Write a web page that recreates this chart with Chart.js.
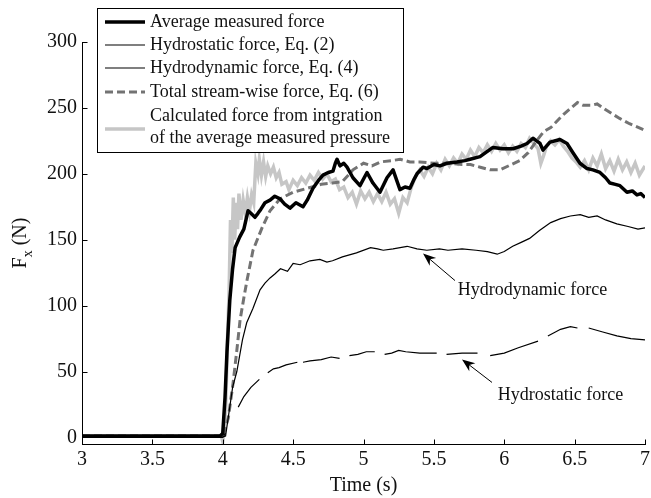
<!DOCTYPE html>
<html>
<head>
<meta charset="utf-8">
<script src="https://cdn.jsdelivr.net/npm/chart.js@4.4.1/dist/chart.umd.min.js"></script>
<style>
html, body { margin: 0; padding: 0; background: #fff; }
#wrap { width: 651px; height: 498px; }
</style>
</head>
<body>
<div id="wrap"><canvas id="c"></canvas></div>
<script>
// ticks
const xTicks = [3, 3.5, 4, 4.5, 5, 5.5, 6, 6.5, 7];
const yTicks = [0, 50, 100, 150, 200, 250, 300];

// average measured force
const avgT = [3.0, 3.5, 3.98, 4.0, 4.016, 4.03, 4.05, 4.07, 4.088, 4.12,
  4.15, 4.18, 4.2, 4.229, 4.25, 4.27, 4.3, 4.336, 4.37, 4.407,
  4.44, 4.478, 4.52, 4.57, 4.6, 4.641, 4.68, 4.712, 4.75, 4.783,
  4.80, 4.812, 4.833, 4.86, 4.883, 4.925, 4.975, 5.025, 5.067, 5.117,
  5.167, 5.21, 5.259, 5.295, 5.33, 5.36, 5.38, 5.423, 5.451, 5.5,
  5.543, 5.593, 5.664, 5.72, 5.757, 5.828, 5.88, 5.92, 5.99, 6.062,
  6.12, 6.162, 6.204, 6.23, 6.254, 6.275, 6.3, 6.325, 6.396, 6.446,
  6.488, 6.538, 6.588, 6.63, 6.68, 6.72, 6.751, 6.79, 6.822, 6.872,
  6.91, 6.943, 6.97, 7.0];
const avgF = [1, 1, 1, 3, 30, 65, 104, 128, 144, 152,
  158, 172, 170, 167, 170, 173, 178, 180, 183, 181,
  177, 174, 178, 175, 180, 189, 195, 199, 201, 202,
  208, 211, 206, 208, 205, 197, 191, 201, 193, 186,
  197, 203, 188, 190, 189, 196, 200, 205, 204, 207,
  206, 208, 209, 210, 211, 213, 217, 220, 219, 219,
  221, 223, 227, 225, 223, 218, 221, 224, 226, 223,
  216, 208, 204, 203, 201, 197, 193, 192, 191, 186,
  187, 184, 185, 182];

// hydrostatic force, Eq. (2)  (null = missing samples)
const hsT = [3.0, 3.5, 3.99, 4.0, 4.02, 4.06, 4.11, 4.15, 4.2, 4.26,
  4.29, 4.32, 4.36, 4.4, 4.45, 4.53, 4.55, 4.57, 4.62, 4.7,
  4.77, 4.83, 4.86, 4.9, 4.96, 5.02, 5.08, 5.11, 5.15, 5.2,
  5.25, 5.3, 5.4, 5.52, 5.55, 5.59, 5.7, 5.81, 5.85, 5.9,
  6.0, 6.1, 6.24, 6.27, 6.31, 6.4, 6.47, 6.52, 6.56, 6.6,
  6.7, 6.8, 6.9, 7.0];
const hsF = [0, 0, 0, 0, 3, null, 23, 31, 38, 44,
  null, 49, 52, 53, 55, 57, null, 57, 58, 59,
  61, 60, null, 62, 63, 65, 65, null, 63, 64,
  66, 65, 64, 64, null, 63, 64, 64, null, 62,
  64, 68, 73, null, 77, 82, 84, 83, null, 83,
  80, 77, 75, 74];

// hydrodynamic force, Eq. (4)
const hdT = [3.0, 3.5, 3.99, 4.02, 4.07, 4.1, 4.14, 4.17, 4.215, 4.265,
  4.3, 4.336, 4.37, 4.41, 4.46, 4.5, 4.55, 4.62, 4.69, 4.74,
  4.78, 4.85, 4.95, 5.05, 5.1, 5.14, 5.21, 5.31, 5.38, 5.45,
  5.54, 5.6, 5.7, 5.8, 5.88, 5.95, 6.0, 6.06, 6.12, 6.18,
  6.25, 6.33, 6.4, 6.47, 6.54, 6.6, 6.66, 6.72, 6.8, 6.88,
  6.95, 7.0];
const hdF = [0, 0, 0, 1, 38, 50, 74, 87, 98, 112,
  117, 121, 124, 128, 126, 132, 131, 134, 135, 133,
  134, 137, 140, 144, 143, 142, 143, 145, 143, 142,
  143, 142, 143, 142, 141, 139, 141, 145, 148, 151,
  157, 163, 166, 168, 169, 167, 168, 165, 162, 160,
  158, 159];

// total stream-wise force, Eq. (6)
const totT = [3.0, 3.5, 3.99, 4.0, 4.04, 4.073, 4.1, 4.123, 4.15, 4.172,
  4.215, 4.279, 4.336, 4.407, 4.5, 4.6, 4.7, 4.78, 4.85, 4.925,
  5.0, 5.06, 5.12, 5.2, 5.26, 5.33, 5.4, 5.5, 5.6, 5.7,
  5.76, 5.83, 5.9, 5.97, 6.05, 6.11, 6.17, 6.23, 6.28, 6.33,
  6.42, 6.52, 6.56, 6.62, 6.66, 6.73, 6.82, 6.89, 7.0];
const totF = [1, 1, 1, 0, 15, 41, 66, 89, 106, 119,
  142, 159, 172, 181, 186, 189, 192, 193, 194, 203,
  208, 206, 209, 210, 211, 209, 209, 208, 208, 207,
  207, 205, 203, 203, 207, 210, 216, 225, 232, 235,
  245, 254, 252, 252, 253, 248, 242, 238, 233];

// force from integration of the average measured pressure
const calcT = [3.0, 3.5, 3.99, 4.0, 4.01, 4.02, 4.035, 4.045, 4.055, 4.065,
  4.075, 4.085, 4.095, 4.105, 4.115, 4.13, 4.145, 4.16, 4.175, 4.19,
  4.205, 4.22, 4.235, 4.25, 4.26, 4.275, 4.29, 4.305, 4.32, 4.34,
  4.36, 4.38, 4.4, 4.42, 4.45, 4.47, 4.5, 4.53, 4.56, 4.59,
  4.62, 4.65, 4.68, 4.71, 4.74, 4.77, 4.8, 4.83, 4.86, 4.89,
  4.92, 4.95, 4.98, 5.01, 5.04, 5.07, 5.1, 5.13, 5.16, 5.19,
  5.22, 5.25, 5.28, 5.31, 5.34, 5.37, 5.4, 5.43, 5.46, 5.49,
  5.52, 5.55, 5.58, 5.61, 5.64, 5.67, 5.7, 5.73, 5.76, 5.79,
  5.82, 5.85, 5.88, 5.91, 5.94, 5.97, 6.0, 6.03, 6.06, 6.09,
  6.12, 6.15, 6.18, 6.21, 6.24, 6.26, 6.28, 6.3, 6.33, 6.36,
  6.39, 6.42, 6.45, 6.48, 6.51, 6.54, 6.57, 6.6, 6.63, 6.66,
  6.69, 6.72, 6.75, 6.78, 6.81, 6.84, 6.87, 6.9, 6.93, 6.96,
  7.0];
const calcF = [1, 1, 1, -3, 5, 20, 79, 110, 165, 140,
  182, 150, 178, 158, 185, 165, 180, 170, 182, 172,
  184, 178, 208, 200, 211, 199, 209, 198, 206, 200,
  205, 197, 201, 192, 194, 188, 195, 191, 197, 193,
  199, 195, 201, 196, 200, 194, 196, 188, 190, 182,
  186, 177, 187, 181, 186, 179, 185, 179, 186, 177,
  181, 170, 182, 178, 190, 198, 203, 198, 205, 200,
  208, 203, 211, 206, 212, 208, 215, 211, 218, 213,
  220, 216, 222, 217, 223, 218, 222, 216, 221, 217,
  223, 220, 227, 223, 219, 208, 214, 221, 225, 222,
  226, 221, 217, 212, 209, 205, 210, 203, 212, 206,
  215, 204, 210, 202, 211, 203, 209, 201, 208, 199,
  206];

const legendLabels = [
  ['Average measured force'],
  ['Hydrostatic force, Eq. (2)'],
  ['Hydrodynamic force, Eq. (4)'],
  ['Total stream-wise force, Eq. (6)'],
  ['Calculated force from intgration', 'of the average measured pressure']
];

// arrow notes in data units: text centre, arrow tail, arrow tip
const notes = [
  { text: 'Hydrodynamic force', at: [6.2, 111.5], tail: [5.65, 119], tip: [5.423, 139.6] },
  { text: 'Hydrostatic force', at: [6.4, 32], tail: [5.913, 41.7], tip: [5.70, 59.2] }
];

const serif = '"Liberation Serif", "Times New Roman", serif';
const ink = '#111';

function pts(ts, vs) {
  return ts.map((t, i) => ({ x: t, y: vs[i] }));
}

function arrow(ctx, x1, y1, x2, y2) {
  const a = Math.atan2(y2 - y1, x2 - x1);
  const L = 13, W = 5;
  ctx.beginPath();
  ctx.moveTo(x1, y1);
  ctx.lineTo(x2 - Math.cos(a) * 6, y2 - Math.sin(a) * 6);
  ctx.stroke();
  ctx.beginPath();
  ctx.moveTo(x2, y2);
  ctx.lineTo(x2 - L * Math.cos(a) + W * Math.sin(a), y2 - L * Math.sin(a) - W * Math.cos(a));
  ctx.lineTo(x2 - L * 0.7 * Math.cos(a), y2 - L * 0.7 * Math.sin(a));
  ctx.lineTo(x2 - L * Math.cos(a) - W * Math.sin(a), y2 - L * Math.sin(a) + W * Math.cos(a));
  ctx.closePath();
  ctx.fill();
}

const decor = {
  id: 'decor',
  afterDraw(chart) {
    const ctx = chart.ctx;
    const xs = chart.scales.x, ys = chart.scales.y;
    const area = chart.chartArea;
    ctx.save();

    // axis lines and inward tick marks
    ctx.strokeStyle = '#000';
    ctx.lineWidth = 1;
    ctx.beginPath();
    const bY = Math.round(area.bottom) + 0.5, lX = Math.round(area.left) + 0.5;
    ctx.moveTo(lX, Math.round(area.top));
    ctx.lineTo(lX, bY);
    ctx.lineTo(Math.round(area.right) + 1, bY);
    xTicks.forEach(v => {
      const px = Math.round(xs.getPixelForValue(v)) + 0.5;
      ctx.moveTo(px, bY);
      ctx.lineTo(px, bY - 5);
    });
    yTicks.forEach(v => {
      const py = Math.round(ys.getPixelForValue(v)) + 0.5;
      ctx.moveTo(lX, py);
      ctx.lineTo(lX + 5, py);
    });
    ctx.stroke();

    // y title with subscript
    ctx.fillStyle = ink;
    ctx.save();
    ctx.translate(21, (area.top + area.bottom) / 2);
    ctx.rotate(-Math.PI / 2);
    ctx.textBaseline = 'middle';
    ctx.font = '20px ' + serif;
    const wF = ctx.measureText('F').width;
    const wN = ctx.measureText(' (N)').width;
    ctx.font = '14px ' + serif;
    const wx = ctx.measureText('x').width;
    let x0 = -(wF + wx + wN) / 2;
    ctx.font = '20px ' + serif;
    ctx.fillText('F', x0, 0);
    ctx.font = '14px ' + serif;
    ctx.fillText('x', x0 + wF, 7);
    ctx.font = '20px ' + serif;
    ctx.fillText(' (N)', x0 + wF + wx, 0);
    ctx.restore();

    // arrow notes
    ctx.strokeStyle = '#000';
    ctx.fillStyle = '#000';
    notes.forEach(n => {
      arrow(ctx, xs.getPixelForValue(n.tail[0]), ys.getPixelForValue(n.tail[1]),
        xs.getPixelForValue(n.tip[0]), ys.getPixelForValue(n.tip[1]));
      ctx.fillStyle = ink;
      ctx.font = '18px ' + serif;
      ctx.textAlign = 'center';
      ctx.textBaseline = 'middle';
      ctx.fillText(n.text, xs.getPixelForValue(n.at[0]), ys.getPixelForValue(n.at[1]));
      ctx.fillStyle = '#000';
    });

    // legend box
    const bx = 97.5, by = 8.5, bw = 306, bh = 144;
    ctx.fillStyle = '#fff';
    ctx.fillRect(bx, by, bw, bh);
    ctx.strokeStyle = '#000';
    ctx.lineWidth = 1;
    ctx.strokeRect(bx, by, bw, bh);
    const rows = [22, 45, 68, 92, 116, 138];
    let r = 0;
    chart.data.datasets.forEach((ds, i) => {
      const lines = legendLabels[i];
      const yMid = lines.length > 1 ? (rows[r] + rows[r + 1]) / 2 + 2 : rows[r];
      ctx.save();
      ctx.strokeStyle = ds.borderColor;
      ctx.lineWidth = ds.borderWidth;
      ctx.setLineDash(ds.borderDash || []);
      ctx.beginPath();
      ctx.moveTo(105, yMid);
      ctx.lineTo(145, yMid);
      ctx.stroke();
      ctx.restore();
      ctx.fillStyle = ink;
      ctx.font = '18px ' + serif;
      ctx.textAlign = 'left';
      ctx.textBaseline = 'middle';
      lines.forEach(t => { ctx.fillText(t, 150, rows[r]); r++; });
    });
    ctx.restore();
  }
};

const tickFont = { family: serif, size: 20 };

new Chart(document.getElementById('c'), {
  type: 'line',
  data: {
    datasets: [
      { data: pts(avgT, avgF), borderColor: '#000', borderWidth: 3.5, order: 1, borderJoinStyle: 'round' },
      { data: pts(hsT, hsF), borderColor: '#000', borderWidth: 1.2, order: 2 },
      { data: pts(hdT, hdF), borderColor: '#000', borderWidth: 1.2, order: 3 },
      { data: pts(totT, totF), borderColor: '#737373', borderWidth: 3, borderDash: [8, 4], order: 4 },
      { data: pts(calcT, calcF), borderColor: '#c6c6c6', borderWidth: 3.5, order: 5 }
    ]
  },
  options: {
    responsive: true,
    maintainAspectRatio: false,
    animation: false,
    spanGaps: false,
    layout: { padding: { top: 42, right: 6, left: 0, bottom: 0 } },
    elements: { point: { radius: 0 }, line: { tension: 0 } },
    plugins: { legend: { display: false }, tooltip: { enabled: false } },
    scales: {
      x: {
        type: 'linear', min: 3, max: 7,
        afterBuildTicks: s => { s.ticks = xTicks.map(v => ({ value: v })); },
        afterFit: s => { s.height = 54; s.paddingRight = 0; s.paddingLeft = 0; },
        grid: { display: true, drawOnChartArea: false, drawTicks: false },
        border: { display: true, color: '#000', width: 1 },
        ticks: { font: tickFont, color: ink, padding: 4, maxRotation: 0, autoSkip: false,
          callback: v => String(v) },
        title: { display: true, text: 'Time (s)', font: tickFont, color: ink, padding: { top: 0, bottom: 0 } }
      },
      y: {
        type: 'linear', min: -5, max: 300,
        afterBuildTicks: s => { s.ticks = yTicks.map(v => ({ value: v })); },
        afterFit: s => { s.width = 82; s.paddingTop = 0; s.paddingBottom = 0; },
        grid: { display: true, drawOnChartArea: false, drawTicks: false },
        border: { display: true, color: '#000', width: 1 },
        ticks: { font: tickFont, color: ink, padding: 5, callback: v => String(v) }
      }
    }
  },
  plugins: [decor]
});
</script>
</body>
</html>
